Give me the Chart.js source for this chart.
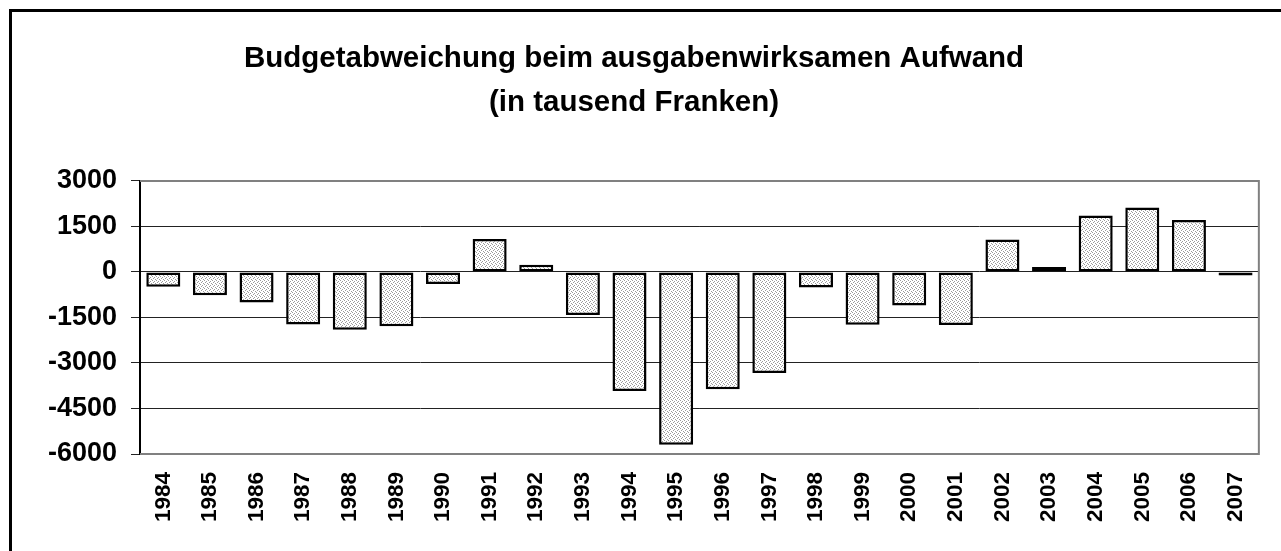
<!DOCTYPE html>
<html>
<head>
<meta charset="utf-8">
<script src="https://cdn.jsdelivr.net/npm/chart.js@4/dist/chart.umd.min.js"></script>
<style>
  html, body { margin: 0; padding: 0; background: #fff; }
  #wrap { width: 1281px; height: 551px; position: relative; }
</style>
</head>
<body>
<div id="wrap"><canvas id="chart"></canvas></div>
<script>
const titleLines = ['Budgetabweichung beim ausgabenwirksamen Aufwand', '(in tausend Franken)'];
const years = ['1984', '1985', '1986', '1987', '1988', '1989', '1990', '1991', '1992', '1993', '1994', '1995',
  '1996', '1997', '1998', '1999', '2000', '2001', '2002', '2003', '2004', '2005', '2006', '2007'];
const deviation = [-490, -770, -1010, -1730, -1905, -1790, -395, 1085, 240, -1415, -3920, -5695,
  -3865, -3330, -515, -1740, -1105, -1745, 1070, 165, 1860, 2120, 1710, -120];
const yMin = -6000, yMax = 3000, yStep = 1500;

// dotted fill like the old Excel pattern
function dotPattern() {
  const c = document.createElement('canvas');
  c.width = 4; c.height = 4;
  const g = c.getContext('2d');
  g.fillStyle = '#fff';
  g.fillRect(0, 0, 4, 4);
  g.fillStyle = '#9a9a9a';
  g.fillRect(0, 0, 1, 1);
  g.fillRect(2, 1, 1, 1);
  g.fillRect(1, 2, 1, 1);
  g.fillRect(3, 3, 1, 1);
  return g.createPattern(c, 'repeat');
}

const frame = {
  id: 'frame',
  beforeDatasetsDraw(chart) {
    const { ctx, chartArea: a } = chart;
    ctx.save();
    ctx.strokeStyle = '#808080';
    ctx.lineWidth = 2;
    ctx.beginPath();
    ctx.moveTo(a.left, a.top);
    ctx.lineTo(a.right, a.top);
    ctx.lineTo(a.right, a.bottom);
    ctx.lineTo(a.left, a.bottom);
    ctx.stroke();
    ctx.restore();
  },
  afterDraw(chart) {
    const ctx = chart.ctx;
    ctx.save();
    ctx.strokeStyle = '#000';
    ctx.lineWidth = 3;
    ctx.strokeRect(10.5, 10.5, 1400, 700);
    ctx.restore();
  }
};

const font = 'Liberation Sans, Arial, sans-serif';

new Chart(document.getElementById('chart'), {
  type: 'bar',
  data: {
    labels: years,
    datasets: [{
      data: deviation,
      backgroundColor: dotPattern(),
      borderColor: '#000',
      borderWidth: 2.5,
      borderSkipped: false,
      categoryPercentage: 1,
      barPercentage: 0.73,
    }]
  },
  options: {
    responsive: true,
    maintainAspectRatio: false,
    animation: false,
    layout: { padding: { left: 9, right: 22, top: 0, bottom: 0 } },
    plugins: {
      legend: { display: false },
      tooltip: { enabled: false },
      title: {
        display: true,
        text: titleLines,
        color: '#000',
        font: { family: font, size: 29.5, weight: 'bold', lineHeight: 1.49 },
        padding: { top: 37, bottom: 56 },
      },
    },
    scales: {
      x: {
        grid: { display: false, drawTicks: false },
        border: { display: false },
        ticks: {
          color: '#000',
          font: { family: font, size: 22.5, weight: 'bold' },
          minRotation: 90, maxRotation: 90,
          padding: 18,
          autoSkip: false,
        },
        afterFit(s) { s.height = 97; },
      },
      y: {
        min: yMin, max: yMax,
        grid: { color: '#222', lineWidth: 1, tickLength: 9 },
        border: { display: true, color: '#000', width: 2 },
        ticks: {
          stepSize: yStep,
          color: '#000',
          padding: 14,
          font: { family: font, size: 27, weight: 'bold' },
          callback: v => String(v),
        },
        afterFit(s) { s.width = 131; },
      },
    },
  },
  plugins: [frame],
});
</script>
</body>
</html>
